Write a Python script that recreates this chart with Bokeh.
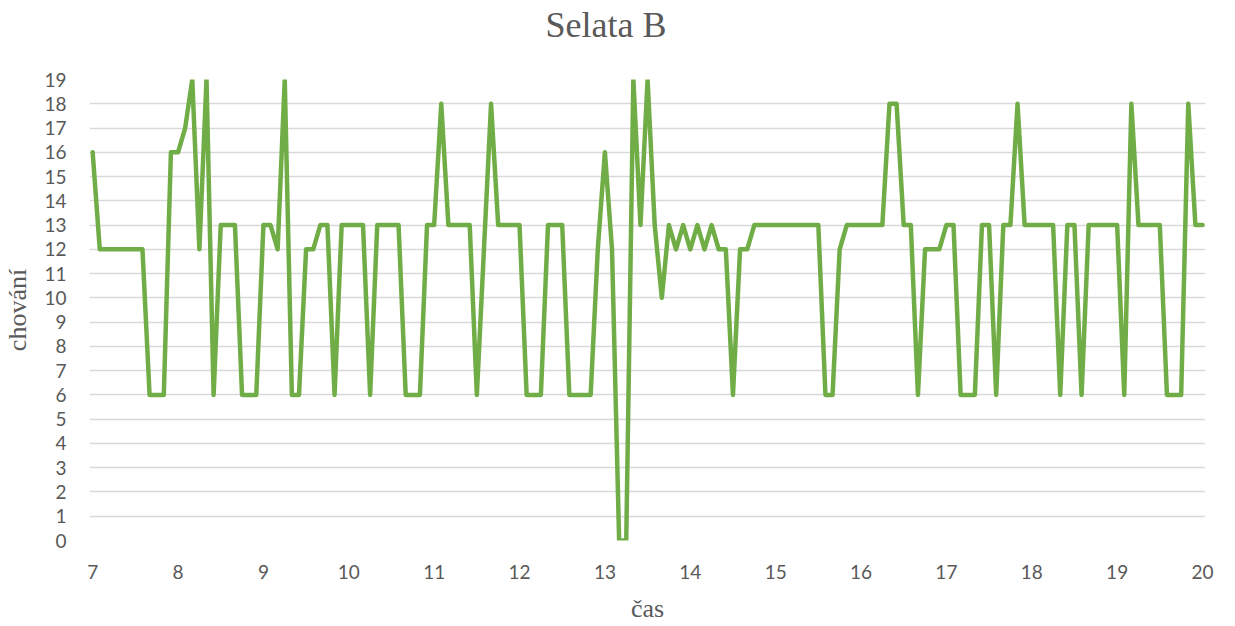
from bokeh.plotting import figure
from bokeh.models import Range1d, FixedTicker
from bokeh.embed import file_html
from bokeh.resources import INLINE

# ---- data ----
title_text = "Selata B"
x_label = "čas"
y_label = "chování"
start_hour = 7
step_minutes = 5
behaviour = [
    16, 12, 12, 12, 12, 12, 12, 12, 6, 6,
    6, 16, 16, 17, 19, 12, 19, 6, 13, 13,
    13, 6, 6, 6, 13, 13, 12, 19, 6, 6,
    12, 12, 13, 13, 6, 13, 13, 13, 13, 6,
    13, 13, 13, 13, 6, 6, 6, 13, 13, 18,
    13, 13, 13, 13, 6, 12, 18, 13, 13, 13,
    13, 6, 6, 6, 13, 13, 13, 6, 6, 6,
    6, 12, 16, 12, 0, 0, 19, 13, 19, 13,
    10, 13, 12, 13, 12, 13, 12, 13, 12, 12,
    6, 12, 12, 13, 13, 13, 13, 13, 13, 13,
    13, 13, 13, 6, 6, 12, 13, 13, 13, 13,
    13, 13, 18, 18, 13, 13, 6, 12, 12, 12,
    13, 13, 6, 6, 6, 13, 13, 6, 13, 13,
    18, 13, 13, 13, 13, 13, 6, 13, 13, 6,
    13, 13, 13, 13, 13, 6, 18, 13, 13, 13,
    13, 6, 6, 6, 18, 13, 13,
]
x_ticks = list(range(7, 21))
y_ticks = list(range(0, 20))

times = [start_hour + i * step_minutes / 60 for i in range(len(behaviour))]

TEXT = "#595959"
GREEN = "#70ad47"
SERIF = "Liberation Serif"

p = figure(
    width=1227, height=626,
    output_backend="svg", toolbar_location=None,
    x_range=Range1d(6.963, 20.035), y_range=Range1d(0, 19),
    min_border_left=89, min_border_right=22,
    min_border_top=79, min_border_bottom=86,
    title=title_text + "\n",
)
p.title.text_font = SERIF
p.title.text_font_size = "36px"
p.title.text_font_style = "normal"
p.title.text_color = TEXT
p.title.text_line_height = 0.8
p.title.align = "left"
p.title.offset = 456
p.title.standoff = 5

p.line(times, behaviour, line_color=GREEN, line_width=4.5,
       line_join="round", line_cap="round")

p.outline_line_color = None
p.xgrid.grid_line_color = None
p.ygrid.grid_line_color = "#d9d9d9"
p.ygrid.grid_line_width = 1.5

for ax in (p.xaxis[0], p.yaxis[0]):
    ax.axis_line_color = None
    ax.major_tick_line_color = None
    ax.minor_tick_line_color = None
    ax.major_tick_out = 0
    ax.major_tick_in = 0
    ax.minor_tick_out = 0
    ax.minor_tick_in = 0
    ax.major_label_text_font = "Lato"
    ax.major_label_text_font_size = "19px"
    ax.major_label_text_color = TEXT
    ax.axis_label_text_font = SERIF
    ax.axis_label_text_font_size = "26px"
    ax.axis_label_text_font_style = "normal"
    ax.axis_label_text_color = TEXT

p.xaxis.ticker = FixedTicker(ticks=x_ticks)
p.yaxis.ticker = FixedTicker(ticks=y_ticks)
p.xaxis.axis_label = x_label
p.yaxis.axis_label = y_label
p.xaxis.major_label_standoff = 24
p.yaxis.major_label_standoff = 23
p.xaxis.axis_label_standoff = 12
p.yaxis.axis_label_standoff = 9

open("out.html", "w").write(file_html(p, INLINE))
